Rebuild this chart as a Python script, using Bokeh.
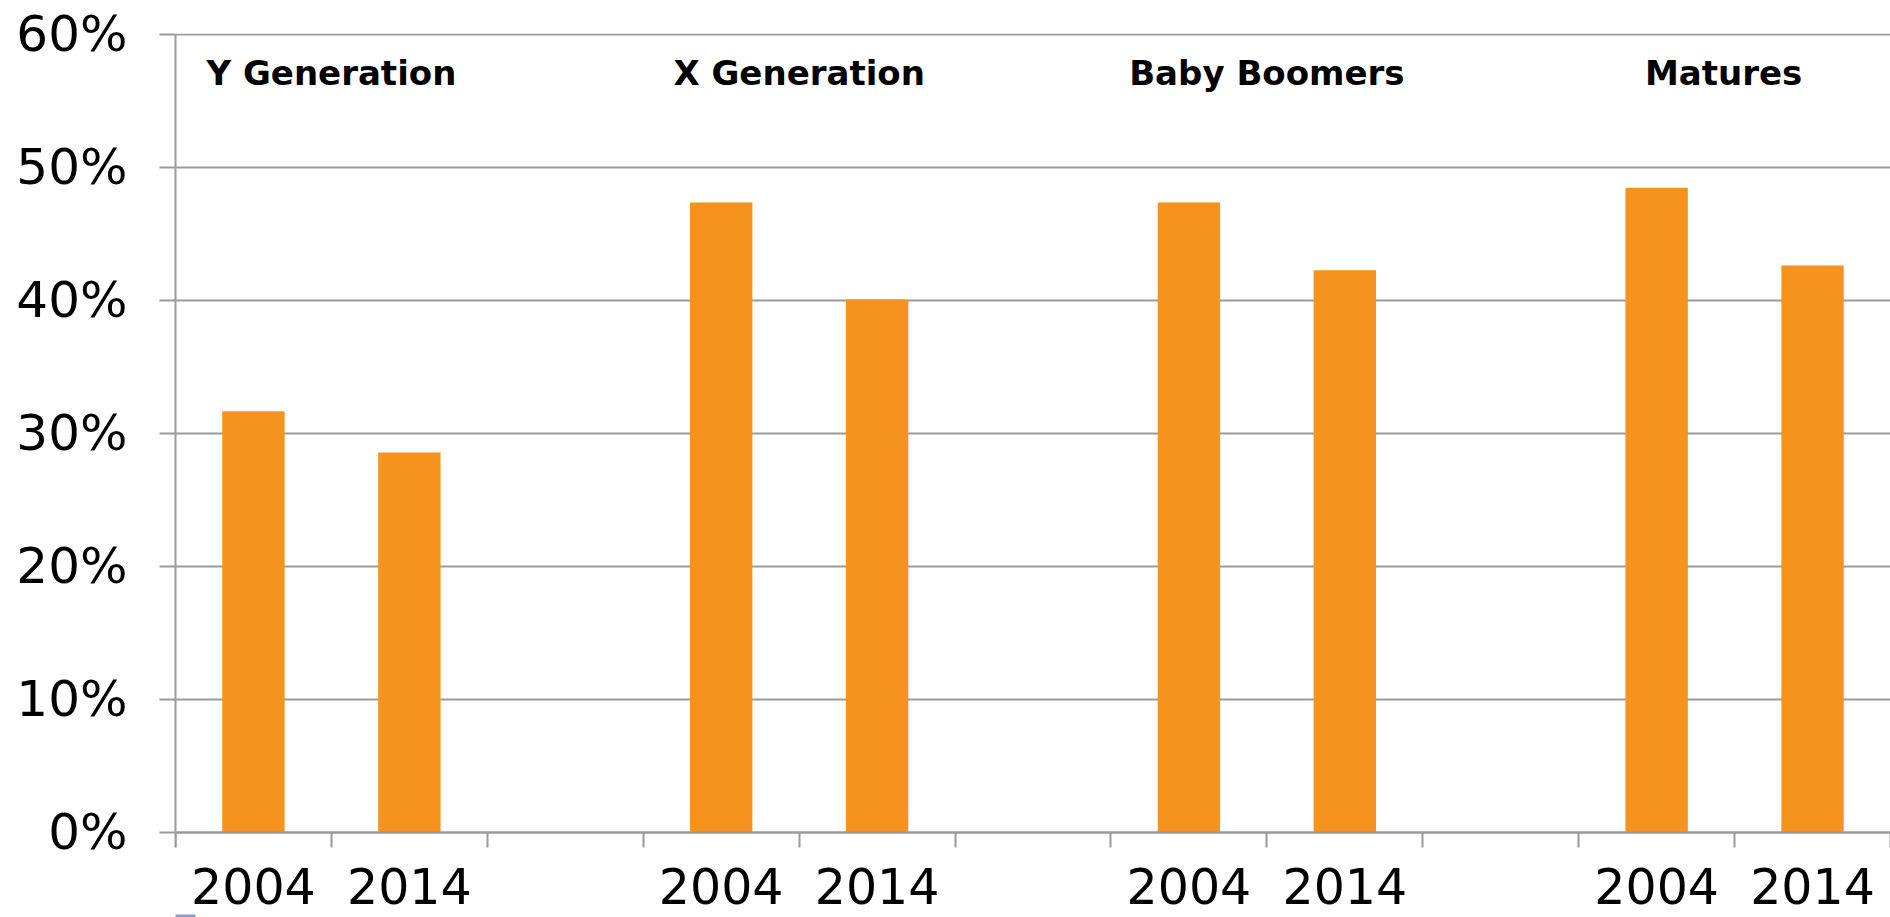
from bokeh.plotting import figure
from bokeh.models import Range1d, FixedTicker, PrintfTickFormatter, ColumnDataSource, LinearAxis, BoxAnnotation
from bokeh.core.properties import value
from bokeh.embed import file_html
from bokeh.resources import INLINE

# ---- data ----
groups = ["Y Generation", "X Generation", "Baby Boomers", "Matures"]
years = ["2004", "2014"]
share_2004 = [31.65, 47.35, 47.35, 48.45]
share_2014 = [28.55, 40.05, 42.25, 42.6]
y_ticks = [0, 10, 20, 30, 40, 50, 60]

# ---- layout constants ----
W, H = 1890, 917
LEFT = 175
TOP = 33
SLOTS_PER_GROUP = 3
n_slots = SLOTS_PER_GROUP * len(groups) - 1
zero_px, top_px = 831.7, 33.7           # canvas pixel of 0% and 60%
px_per_unit = (zero_px - top_px) / 60.0
frame_h = H - TOP
y_end = 60 + (top_px - TOP) / px_per_unit
y_start = y_end - frame_h / px_per_unit
title_nudge_px = [0, 0, 0, -11]

GRID = "#9a9a9a"
ORANGE = "#F6921E"
FONT = "DejaVu Sans"

# bars
xs, tops, labels = [], [], []
for g in range(len(groups)):
    for j, yr in enumerate(years):
        slot = g * SLOTS_PER_GROUP + j
        xs.append(slot + 0.5)
        tops.append(share_2004[g] if j == 0 else share_2014[g])
        labels.append(yr)
src = ColumnDataSource(dict(x=xs, top=tops, year=labels))

p = figure(width=W, height=H, output_backend="svg", toolbar_location=None,
           x_range=Range1d(0, n_slots), y_range=Range1d(y_start, y_end),
           x_axis_location=None, y_axis_location=None,
           min_border_left=LEFT, min_border_right=0, min_border_top=TOP, min_border_bottom=0)
p.outline_line_color = None
p.background_fill_color = "white"
p.border_fill_color = "white"

p.vbar(x="x", top="top", bottom=0, width=0.4, source=src, fill_color=ORANGE, line_color=None)

# y axis
yax = LinearAxis(ticker=FixedTicker(ticks=y_ticks, minor_ticks=[]),
                 formatter=PrintfTickFormatter(format="%d%%"))
yax.bounds = (-15 / px_per_unit, 60)
yax.axis_line_color = GRID
yax.axis_line_width = 2
yax.major_tick_line_color = GRID
yax.major_tick_line_width = 2
yax.major_tick_out = 16
yax.major_tick_in = 0
yax.minor_tick_line_color = None
yax.major_label_standoff = 32
yax.major_label_text_font = FONT
yax.major_label_text_font_size = "50px"
yax.major_label_text_color = "black"
p.add_layout(yax, "left")

# x axis (placed at 0)
boundaries = list(range(0, n_slots + 1))
xax = LinearAxis(ticker=FixedTicker(ticks=xs, minor_ticks=boundaries))
xax.fixed_location = 0
xax.major_label_overrides = {float(x): yr for x, yr in zip(xs, labels)}
xax.axis_line_color = GRID
xax.axis_line_width = 2
xax.major_tick_line_color = None
xax.major_tick_out = 0
xax.major_tick_in = 0
xax.minor_tick_line_color = GRID
xax.minor_tick_line_width = 2
xax.minor_tick_out = 15
xax.minor_tick_in = 0
xax.major_label_standoff = 21
xax.major_label_text_font = FONT
xax.major_label_text_font_size = "49px"
xax.major_label_text_color = "black"
p.add_layout(xax, "below")

# grid
p.ygrid.ticker = FixedTicker(ticks=y_ticks)
p.ygrid.grid_line_color = GRID
p.ygrid.grid_line_width = 2
p.xgrid.visible = False

# group titles
title_y = (zero_px - 72) / px_per_unit
centers = [g * SLOTS_PER_GROUP + 1 for g in range(len(groups))]
tsrc = ColumnDataSource(dict(x=centers, y=[title_y] * len(groups), text=groups, dx=title_nudge_px))
p.text(x="x", y="y", text="text", x_offset="dx", source=tsrc,
       text_font=value(FONT), text_font_style="bold", text_font_size="34px",
       text_align="center", text_baseline="middle", text_color="black")

# thin link underline at the bottom-left of the page
p.add_layout(BoxAnnotation(left=59, right=195, top=914, bottom=917,
                           left_units="canvas", right_units="canvas",
                           top_units="canvas", bottom_units="canvas",
                           fill_color="#8C9BD3", fill_alpha=1.0, line_color=None,
                           level="overlay"))

open("out.html", "w").write(file_html(p, INLINE))
